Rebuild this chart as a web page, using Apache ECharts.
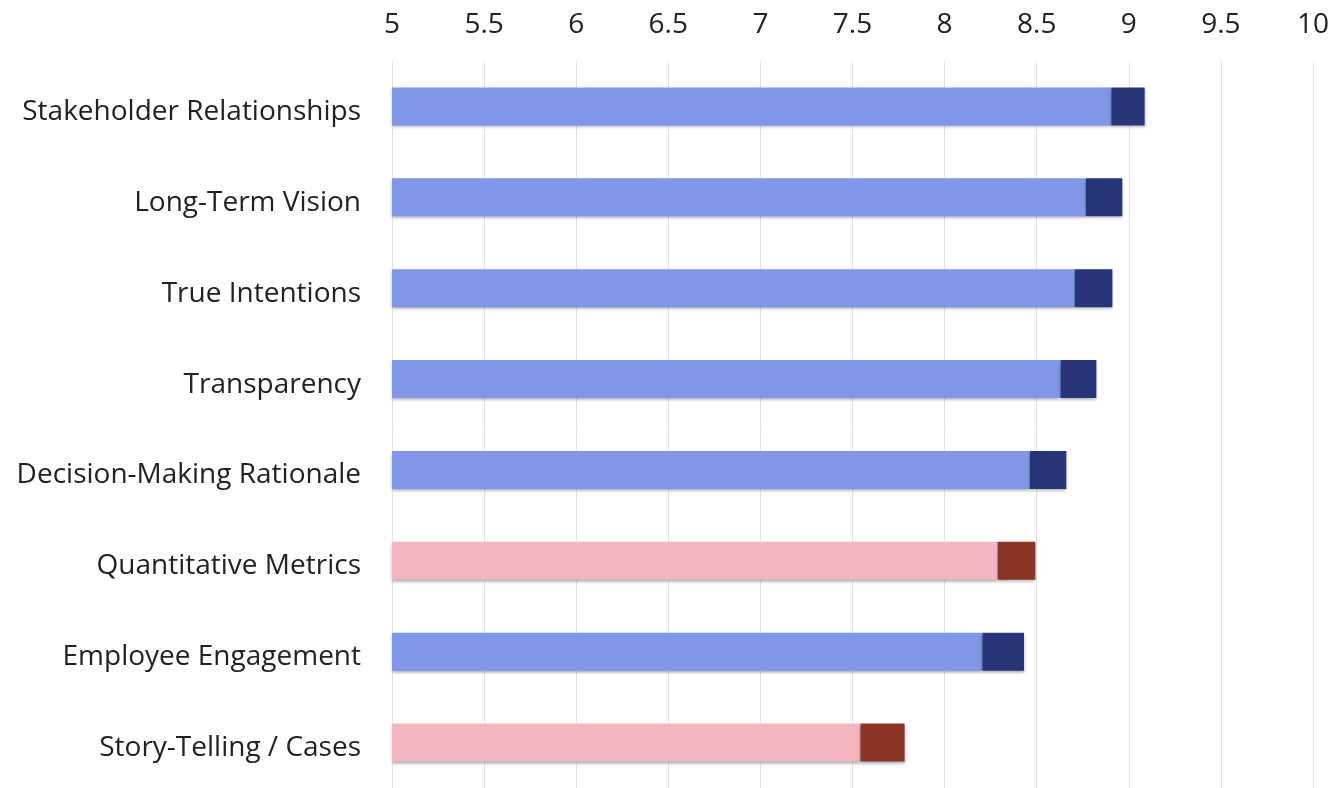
<!DOCTYPE html>
<html>
<head>
<meta charset="utf-8">
<style>
html,body{margin:0;padding:0;background:#fff;}
#chart{width:1337px;height:788px;}
</style>
<script src="https://cdn.jsdelivr.net/npm/echarts@6/dist/echarts.min.js"></script>
</head>
<body>
<div id="chart"></div>
<script>
const categories = [
  'Stakeholder Relationships',
  'Long-Term Vision',
  'True Intentions',
  'Transparency',
  'Decision-Making Rationale',
  'Quantitative Metrics',
  'Employee Engagement',
  'Story-Telling / Cases'
];
// start of the dark end segment
const lowValues = [8.905, 8.766, 8.706, 8.629, 8.462, 8.288, 8.205, 7.543];
// end of the bar
const highValues = [9.086, 8.965, 8.911, 8.824, 8.661, 8.493, 8.431, 7.783];
// group of each category (blue / pink)
const groups = ['A', 'A', 'A', 'A', 'A', 'B', 'A', 'B'];
const xTicks = [5, 5.5, 6, 6.5, 7, 7.5, 8, 8.5, 9, 9.5, 10];

const lightColors = { A: '#7f97e6', B: '#f3b6bf' };
const darkColors = { A: '#283679', B: '#8a3424' };
const shadow = { shadowColor: 'rgba(60,60,90,0.45)', shadowBlur: 3, shadowOffsetY: 2 };

const baseData = lowValues.map((v, i) => ({
  value: v,
  itemStyle: Object.assign({ color: lightColors[groups[i]] }, shadow)
}));
const capData = highValues.map((v, i) => ({
  value: +(v - lowValues[i]).toFixed(3),
  itemStyle: Object.assign({ color: darkColors[groups[i]] }, shadow)
}));

const chart = echarts.init(document.getElementById('chart'), null, { renderer: 'canvas' });
chart.setOption({
  animation: false,
  backgroundColor: '#ffffff',
  grid: { left: 392, right: 24, top: 61, bottom: 0, containLabel: false },
  xAxis: {
    type: 'value',
    position: 'top',
    min: xTicks[0],
    max: xTicks[xTicks.length - 1],
    interval: 0.5,
    axisLine: { show: false },
    axisTick: { show: false },
    axisLabel: {
      margin: 22,
      fontFamily: 'Open Sans',
      fontSize: 28,
      color: '#222222',
      formatter: v => String(v)
    },
    splitLine: { show: true, lineStyle: { color: '#dfe0e8', width: 1 } }
  },
  yAxis: {
    type: 'category',
    inverse: true,
    data: categories,
    axisLine: { show: false },
    axisTick: { show: false },
    splitLine: { show: false },
    axisLabel: {
      margin: 31,
      formatter: v => '{t|' + v + '}',
      rich: {
        t: {
          fontFamily: 'Open Sans',
          fontSize: 28,
          color: '#222222',
          padding: [11, 0, 0, 0]
        }
      }
    }
  },
  series: [
    { type: 'bar', stack: 'total', barWidth: 38, data: baseData, silent: true },
    { type: 'bar', stack: 'total', barWidth: 38, data: capData, silent: true }
  ]
});
</script>
</body>
</html>
